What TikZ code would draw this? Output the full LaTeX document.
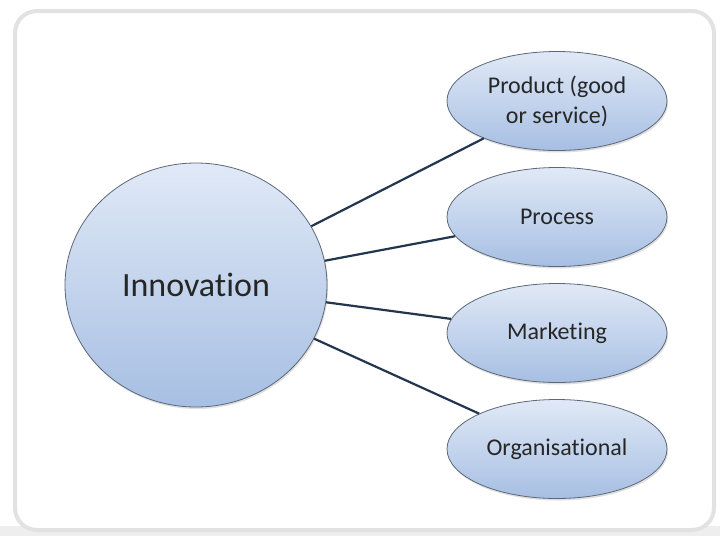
\documentclass[tikz,border=0pt]{standalone}
\usepackage{fontspec}
\setmainfont{Carlito}[RawFeature={-liga}]
\usepackage{tikz}
\usetikzlibrary{shapes.geometric,positioning,shadows}

\definecolor{bubbletop}{HTML}{E0E9F6}
\definecolor{bubblebot}{HTML}{A7BFE3}
\definecolor{bubbleline}{HTML}{5C6878}
\definecolor{linkcol}{HTML}{23364F}
\definecolor{framecol}{HTML}{E2E2E2}

\begin{document}
\begin{tikzpicture}[x=1pt,y=-1pt,node distance=116pt,on grid,
    bubble/.style={ellipse,draw=bubbleline,line width=0.8pt,top color=bubbletop,bottom color=bubblebot,
      text=black!85,align=center,drop shadow={opacity=0.25,shadow xshift=1pt,shadow yshift=-2pt}},
    leaf/.style={bubble,minimum width=220pt,minimum height=99pt,font=\fontsize{24}{30}\selectfont},
    link/.style={draw=linkcol,line width=2.2pt}]
      \useasboundingbox (0,0) rectangle (720,536);
      \fill[framecol!60] (0,526) rectangle (720,536);
      \draw[framecol,fill=white,line width=4pt,rounded corners=22pt] (15,11) rectangle (714,530);
      \node[bubble,minimum width=262pt,minimum height=244pt,font=\fontsize{34}{40}\selectfont] (inno) at (196,285) {Innovation};
      \node[leaf] (prod) at (557,101) {Product (good\\or service)};
      \node[leaf] (proc) [below=of prod] {Process};
      \node[leaf] (mark) [below=of proc] {Marketing};
      \node[leaf] (orga) [below=of mark] {Organisational};
      \path[link]
      (inno) edge (prod)
      (inno) edge (proc)
      (inno) edge (mark)
      (inno) edge (orga);
    \end{tikzpicture}
\end{document}
